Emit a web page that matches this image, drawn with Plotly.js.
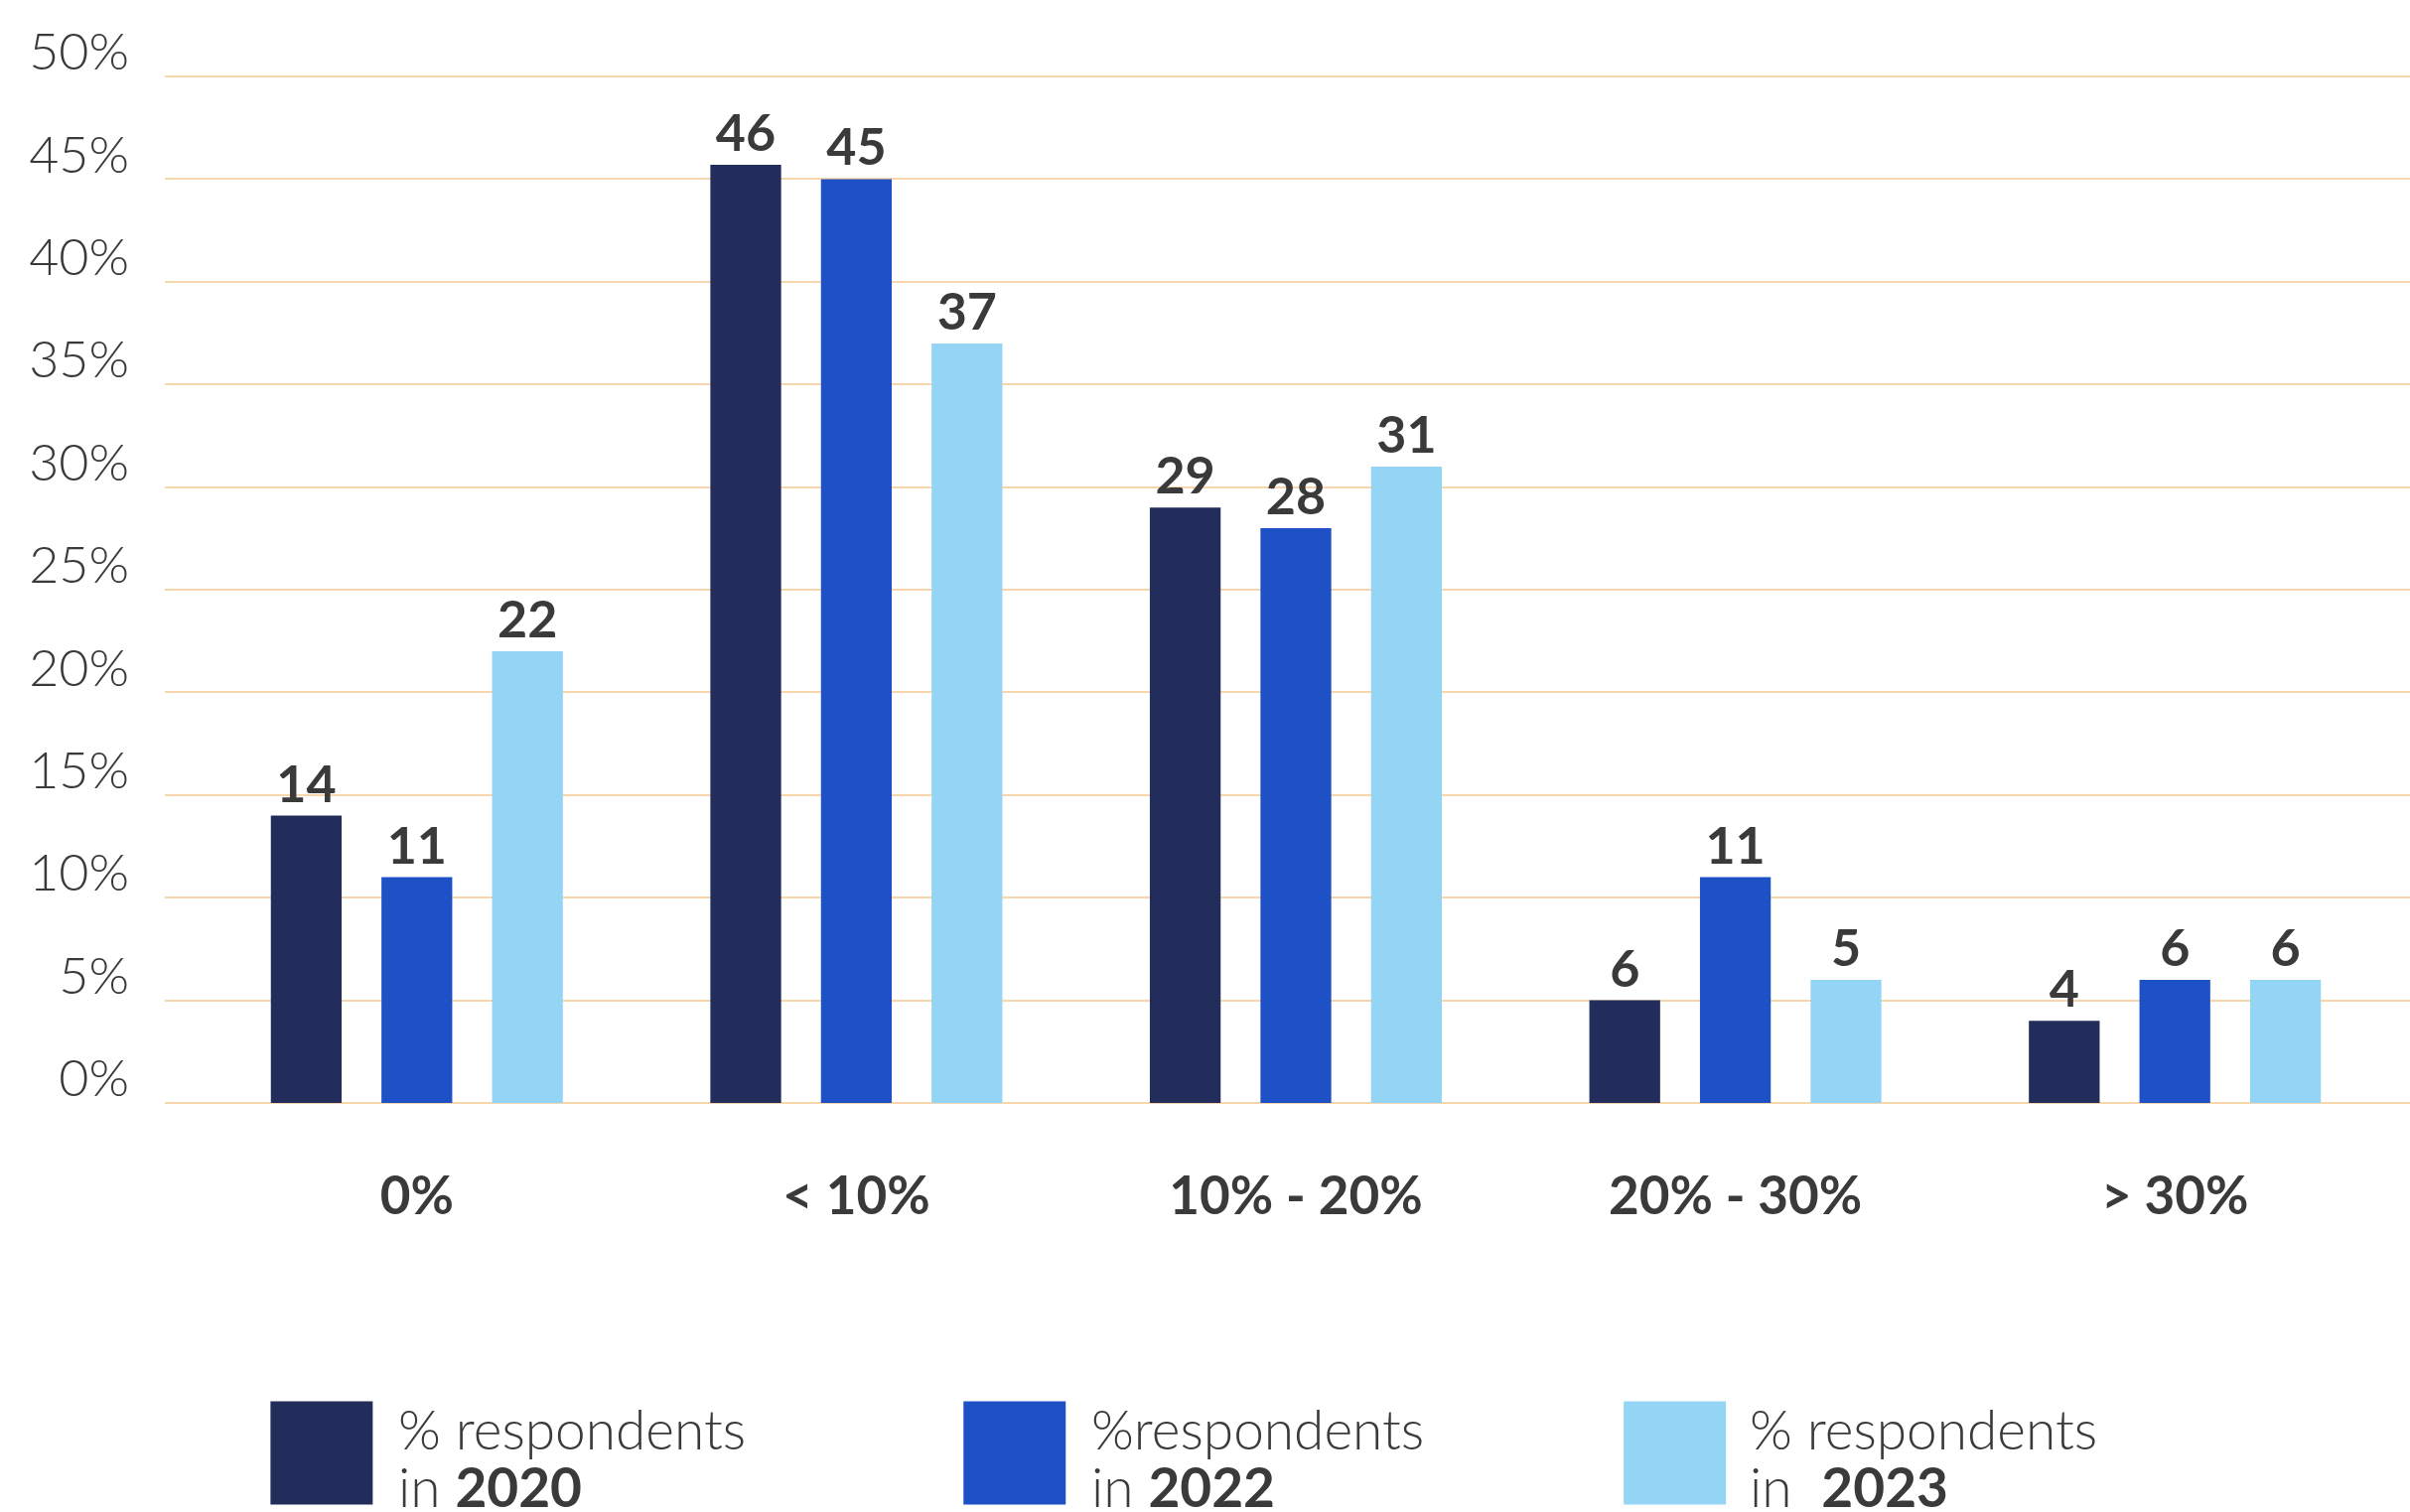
<!DOCTYPE html>
<html>
<head>
<meta charset="utf-8">
<script src="https://cdn.plot.ly/plotly-3.0.1.min.js"></script>
<style>
html,body{margin:0;padding:0;background:#fff;}
#chart{width:2427px;height:1523px;}
</style>
</head>
<body>
<div id="chart"></div>
<script>
// ---- Data ----
const categories = ['0%', '< 10%', '10% - 20%', '20% - 30%', '> 30%'];
const values2020 = [14, 45.7, 29, 5, 4];
const values2022 = [11, 45, 28, 11, 6];
const values2023 = [22, 37, 31, 6, 6];
const labels2020 = ['14', '46', '29', '6', '4'];
const labels2022 = ['11', '45', '28', '11', '6'];
const labels2023 = ['22', '37', '31', '5', '6'];
const seriesLine1 = ['% respondents', '%respondents', '% respondents'];
const seriesLine2 = ['in <b>2020</b>', 'in <b>2022</b>', 'in&nbsp;&nbsp;<b>2023</b>'];
const seriesColors = ['#222d5c', '#1f51c6', '#94d5f5'];
const yTicks = [0, 5, 10, 15, 20, 25, 30, 35, 40, 45, 50];

// ---- Layout geometry ----
const W = 2427, H = 1523;
const yMax = 50.1;
const zeroPx = 1111.5, fiftyPx = 77.4;
const pxPerUnit = (zeroPx - fiftyPx) / 50;
const L = 165.6, R = 0;
const T = zeroPx - yMax * pxPerUnit;
const B = H - zeroPx;
const plotW = W - L - R, plotH = H - T - B;
const px2x = p => (p - L) / plotW;
const px2y = p => (H - B - p) / plotH;

const textColor = '#3a3a3a';
const gridColor = '#f7d6ae';
const fontFam = 'Lato, "Open Sans", sans-serif';

const valueSets = [values2020, values2022, values2023];
const labelSets = [labels2020, labels2022, labels2023];

const traces = valueSets.map((vals, i) => ({
  type: 'bar',
  x: categories.map((c, k) => k),
  y: vals,
  text: labelSets[i],
  textposition: 'outside',
  cliponaxis: false,
  textfont: {family: fontFam, size: 52, color: textColor, weight: 700},
  marker: {color: seriesColors[i]},
  name: seriesLine1[i] + ' ' + seriesLine2[i],
  hoverinfo: 'skip',
  showlegend: false
}));

// legend built from series
const legendSwatchX = [272, 970, 1635];
const legendTextX = [399, 1097, 1760];
const shapes = [];
const annotations = [];
seriesColors.forEach((col, i) => {
  shapes.push({
    type: 'rect', xref: 'paper', yref: 'paper',
    x0: px2x(legendSwatchX[i]), x1: px2x(legendSwatchX[i] + 103),
    y0: px2y(1516), y1: px2y(1412),
    fillcolor: col, line: {width: 0}
  });
  annotations.push({
    xref: 'paper', yref: 'paper',
    x: px2x(legendTextX[i]), y: px2y(1440),
    xanchor: 'left', yanchor: 'middle', align: 'left',
    text: seriesLine1[i], showarrow: false,
    font: {family: fontFam, size: 55, color: textColor, weight: 300}
  });
  annotations.push({
    xref: 'paper', yref: 'paper',
    x: px2x(legendTextX[i]), y: px2y(1498),
    xanchor: 'left', yanchor: 'middle', align: 'left',
    text: seriesLine2[i], showarrow: false,
    font: {family: fontFam, size: 55, color: textColor, weight: 300}
  });
});

const layout = {
  width: W, height: H,
  margin: {l: L, r: R, t: T, b: B, pad: 0},
  paper_bgcolor: '#ffffff', plot_bgcolor: '#ffffff',
  barmode: 'group',
  bargap: 0.245,
  bargroupgap: 0.36,
  showlegend: false,
  xaxis: {
    range: [-0.5734, 4.535],
    tickvals: categories.map((c, k) => k),
    ticktext: categories,
    showgrid: false, zeroline: false, showline: false, ticks: '',
    ticklabelstandoff: 58,
    tickfont: {family: fontFam, size: 53, color: textColor, weight: 700},
    fixedrange: true
  },
  yaxis: {
    range: [0, yMax],
    tickvals: yTicks,
    ticktext: yTicks.map(v => v + '%'),
    showgrid: true, gridcolor: gridColor, gridwidth: 2,
    zeroline: true, zerolinecolor: gridColor, zerolinewidth: 2,
    showline: false, ticks: '',
    ticklabelstandoff: 35,
    ticklabelshift: -25,
    tickfont: {family: fontFam, size: 52, color: textColor, weight: 300},
    fixedrange: true
  },
  shapes: shapes,
  annotations: annotations
};

Plotly.newPlot('chart', traces, layout, {displayModeBar: false, staticPlot: true});
</script>
</body>
</html>
